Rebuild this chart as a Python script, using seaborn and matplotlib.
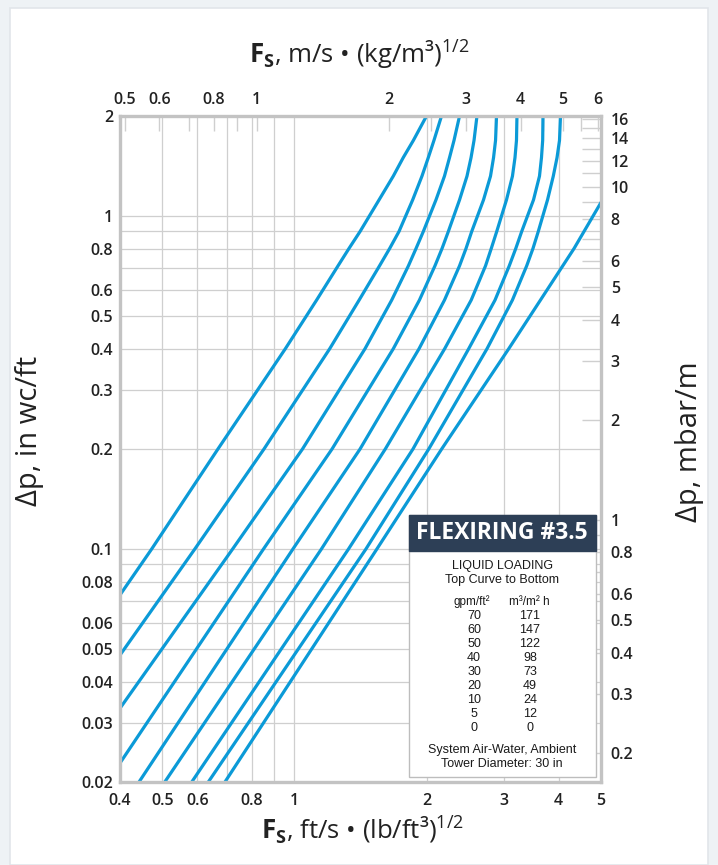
import numpy as np
import pandas as pd
import matplotlib
matplotlib.use("Agg")
import matplotlib.pyplot as plt
from matplotlib.patches import Rectangle
from matplotlib.ticker import FixedLocator, NullFormatter
import seaborn as sns

# liquid loading of each curve, top curve to bottom
gpm = [70, 60, 50, 40, 30, 20, 10, 5, 0]
m3h = [171, 147, 122, 98, 73, 49, 24, 12, 0]

# points: Fs (ft/s (lb/ft3)^0.5) against dp (in wc/ft)
dp_lv = [2.0, 1.69, 1.5, 1.32, 1.12, 0.9, 0.8, 0.71, 0.56, 0.4, 0.2, 0.1]

fs_70 = [2.00, 1.867, 1.77, 1.680, 1.559, 1.411, 1.331, 1.257, 1.123, 0.953, 0.669, 0.472, 0.4]
dp_70 = dp_lv + [0.0729]
fs_60 = [2.164, 2.080, 2.019, 1.953, 1.860, 1.731, 1.648, 1.563, 1.404, 1.203, 0.852, 0.592, 0.4]
dp_60 = dp_lv + [0.0481]
fs_50 = [2.379, 2.311, 2.257, 2.198, 2.102, 1.967, 1.893, 1.819, 1.666, 1.448, 1.043, 0.722, 0.4]
dp_50 = dp_lv + [0.0333]
fs_40 = [2.607, 2.567, 2.527, 2.474, 2.379, 2.243, 2.17, 2.091, 1.927, 1.680, 1.218, 0.849, 0.4]
dp_40 = dp_lv + [0.0228]
fs_30 = [2.889, 2.874, 2.844, 2.799, 2.698, 2.536, 2.461, 2.379, 2.198, 1.923, 1.411, 0.991, 0.442]
dp_30 = dp_lv + [0.02]
fs_20 = [3.216, 3.208, 3.183, 3.141, 3.044, 2.892, 2.81, 2.727, 2.529, 2.20, 1.611, 1.151, 0.506]
dp_20 = dp_lv + [0.02]
fs_10 = [3.687, 3.681, 3.658, 3.620, 3.508, 3.297, 3.196, 3.089, 2.866, 2.496, 1.863, 1.327, 0.583]
dp_10 = dp_lv + [0.02]
fs_5 = [4.042, 4.021, 3.969, 3.892, 3.776, 3.597, 3.498, 3.385, 3.140, 2.748, 2.024, 1.454, 0.636]
dp_5 = dp_lv + [0.02]
fs_0 = [5.0, 4.34, 3.08, 2.166, 1.540, 0.694]
dp_0 = [1.10, 0.8, 0.4, 0.2, 0.1, 0.02]

curves = [(fs_70, dp_70), (fs_60, dp_60), (fs_50, dp_50), (fs_40, dp_40), (fs_30, dp_30),
          (fs_20, dp_20), (fs_10, dp_10), (fs_5, dp_5), (fs_0, dp_0)]

# axis ticks
x_ticks = [0.4, 0.5, 0.6, 0.8, 1, 2, 3, 4, 5]
x_labels = ["0.4", "0.5", "0.6", "0.8", "1", "2", "3", "4", "5"]
x_minor = [0.7, 0.9]
y_ticks = [0.02, 0.03, 0.04, 0.05, 0.06, 0.08, 0.1, 0.2, 0.3, 0.4, 0.5, 0.6, 0.8, 1, 2]
y_labels = ["0.02", "0.03", "0.04", "0.05", "0.06", "0.08", "0.1", "0.2", "0.3", "0.4",
            "0.5", "0.6", "0.8", "1", "2"]
y_minor = [0.07, 0.09, 0.7, 0.9]
top_ticks = [0.5, 0.6, 0.8, 1, 2, 3, 4, 5, 6]
top_labels = ["0.5", "0.6", "0.8", "1", "2", "3", "4", "5", "6"]
top_minor = [0.7, 0.9, 2.5, 3.5, 4.5, 5.5]
right_ticks = [0.2, 0.3, 0.4, 0.5, 0.6, 0.8, 1, 2, 3, 4, 5, 6, 8, 10, 12, 14, 16]
right_labels = ["0.2", "0.3", "0.4", "0.5", "0.6", "0.8", "1", "2", "3", "4", "5", "6",
                "8", "10", "12", "14", "16"]
right_minor = [0.7, 0.9, 7, 9, 11, 13, 15]

FS_SI = 0.3048 * np.sqrt(16.01846)   # ft/s (lb/ft3)^.5 -> m/s (kg/m3)^.5
DP_SI = 2.49089 / 0.3048             # in wc/ft -> mbar/m

rows = []
for g, (xs, ys) in zip(gpm, curves):
    for i, (a, b) in enumerate(zip(xs, ys)):
        rows.append({"gpm": g, "order": i, "fs": a, "dp": b})
df = pd.DataFrame(rows)

sns.set_theme(style="white")
plt.rcParams["font.family"] = ["Open Sans", "DejaVu Sans"]
plt.rcParams["mathtext.fontset"] = "custom"
plt.rcParams["mathtext.rm"] = "Open Sans"
plt.rcParams["mathtext.bf"] = "Open Sans:bold"
plt.rcParams["mathtext.it"] = "Open Sans:italic"

W, H = 718, 865
fig = plt.figure(figsize=(W / 100, H / 100), dpi=100)
fig.patch.set_facecolor("#eef2f5")
fig.patches.append(Rectangle((10 / W, 0), 698 / W, 1 - 8 / H, transform=fig.transFigure,
                             facecolor="white", edgecolor="#e1e5ea", lw=1.2, zorder=-5))

ax = fig.add_axes([120 / W, 1 - 782 / H, 481 / W, 666 / H])
ax.set_facecolor("none")

blue = "#0b9ad7"
sns.lineplot(data=df, x="fs", y="dp", hue="gpm", units="gpm", estimator=None, sort=False,
             palette=[blue] * len(gpm), hue_order=gpm, legend=False, lw=2.3, ax=ax, zorder=3)

ax.set_xscale("log")
ax.set_yscale("log")
ax.set_xlim(0.4, 5)
ax.set_ylim(0.02, 2)
ax.set_xlabel("")
ax.set_ylabel("")

ink = "#222222"
grid_c = "#cfcfcf"
tick_fs = 11.5
ax.xaxis.set_major_locator(FixedLocator(x_ticks))
ax.xaxis.set_minor_locator(FixedLocator(x_minor))
ax.set_xticklabels(x_labels)
ax.xaxis.set_minor_formatter(NullFormatter())
ax.yaxis.set_major_locator(FixedLocator(y_ticks))
ax.yaxis.set_minor_locator(FixedLocator(y_minor))
ax.set_yticklabels(y_labels)
ax.yaxis.set_minor_formatter(NullFormatter())
ax.grid(True, which="both", color=grid_c, lw=0.9, zorder=1)
ax.tick_params(which="both", length=0)
ax.tick_params(axis="x", pad=8)
ax.tick_params(axis="y", pad=5)
for lab in ax.get_xticklabels() + ax.get_yticklabels():
    lab.set_fontsize(tick_fs)
    lab.set_fontweight("semibold")
    lab.set_color(ink)
for s in ax.spines.values():
    s.set_color("#c3c3c3")
    s.set_linewidth(2.4)
    s.set_zorder(4)

top = ax.secondary_xaxis("top", functions=(lambda v: v * FS_SI, lambda v: v / FS_SI))
top.xaxis.set_major_locator(FixedLocator(top_ticks))
top.xaxis.set_minor_locator(FixedLocator(top_minor))
top.set_xticklabels(top_labels)
top.xaxis.set_minor_formatter(NullFormatter())
top.tick_params(which="major", direction="in", length=11, width=1, color=grid_c, pad=6)
top.tick_params(which="minor", direction="in", length=11, width=1, color=grid_c)
top.spines["top"].set_visible(False)

right = ax.secondary_yaxis("right", functions=(lambda v: v * DP_SI, lambda v: v / DP_SI))
right.yaxis.set_major_locator(FixedLocator(right_ticks))
right.yaxis.set_minor_locator(FixedLocator(right_minor))
right.set_yticklabels(right_labels)
right.yaxis.set_minor_formatter(NullFormatter())
right.tick_params(which="both", direction="in", length=14, width=1, color=grid_c, pad=7)
right.spines["right"].set_visible(False)
for lab in top.get_xticklabels() + right.get_yticklabels():
    lab.set_fontsize(tick_fs)
    lab.set_fontweight("semibold")
    lab.set_color(ink)


def fx(px):
    return px / W


def fy(py):
    return 1 - py / H


# axis titles
fig.text(fx(359), fy(55), r"$\mathbf{F_S}$, m/s • (kg/m³)$^{1/2}$", fontsize=18.5, color=ink,
         ha="center", va="center")
fig.text(fx(363), fy(830), r"$\mathbf{F_S}$, ft/s • (lb/ft³)$^{1/2}$", fontsize=18.5, color=ink,
         ha="center", va="center")
fig.text(fx(30), fy(431), "Δp, in wc/ft", fontsize=21, color=ink, rotation=90,
         ha="center", va="center")
fig.text(fx(690), fy(442), "Δp, mbar/m", fontsize=21, color=ink, rotation=90,
         ha="center", va="center")

# legend box
fig.patches.append(Rectangle((fx(409), fy(777)), (596 - 409) / W, (777 - 515) / H,
                             transform=fig.transFigure, facecolor="white",
                             edgecolor="#bdbdbd", lw=1, zorder=5))
fig.patches.append(Rectangle((fx(409), fy(551)), (596 - 409) / W, (551 - 515) / H,
                             transform=fig.transFigure, facecolor="#2d3f56",
                             edgecolor="#2d3f56", lw=1, zorder=6))
fig.text(fx(502), fy(533), "FLEXIRING #3.5", color="white", fontsize=16.5, fontweight="bold",
         ha="center", va="center", zorder=7)
narrow = ["Liberation Sans Narrow", "Liberation Sans", "DejaVu Sans"]
kw = dict(family=narrow, fontsize=9, color="#1a1a1a", ha="center", va="center", zorder=7)
fig.text(fx(502), fy(566), "LIQUID LOADING", **kw)
fig.text(fx(502), fy(580), "Top Curve to Bottom", **kw)
fig.text(fx(472), fy(602), "gpm/ft²", **dict(kw, fontsize=8.5))
fig.text(fx(529), fy(602), "m³/m² h", **dict(kw, fontsize=8.5))
for i, (g, m) in enumerate(zip(gpm, m3h)):
    fig.text(fx(474), fy(616 + i * 14), str(g), **kw)
    fig.text(fx(530), fy(616 + i * 14), str(m), **kw)
fig.text(fx(502), fy(750), "System Air-Water, Ambient", **kw)
fig.text(fx(502), fy(764), "Tower Diameter: 30 in", **kw)

fig.savefig("out.png", dpi=100, facecolor=fig.get_facecolor())
